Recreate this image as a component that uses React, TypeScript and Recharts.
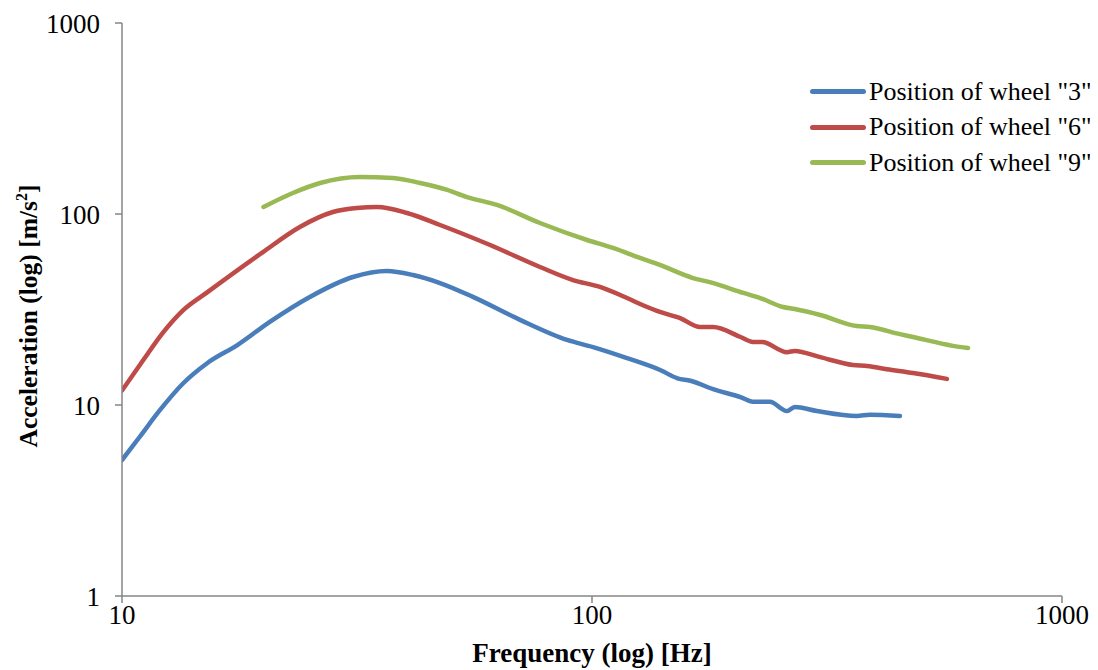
import { Label, Legend, Line, LineChart, XAxis, YAxis } from "recharts";

const wheel3Freq = [10, 10.9, 12.05, 13.5, 15.2, 17.6, 20.7, 25.1, 31.0, 36.6, 41.6, 47.5, 55.8, 70.3, 88.5, 100.5, 118.7, 140, 152, 162, 181, 207, 220, 239, 260, 270, 301, 366, 390, 452];
const wheel3Acc = [5.15, 6.8, 9.42, 13.0, 16.6, 20.6, 27.4, 36.8, 46.8, 50.3, 47.9, 43.5, 36.8, 27.9, 21.9, 20.1, 17.6, 15.2, 13.8, 13.4, 12.1, 11.0, 10.4, 10.4, 9.3, 9.77, 9.3, 8.76, 8.9, 8.76];

const wheel6Freq = [10, 11.1, 12.2, 13.5, 15.2, 19.95, 23.9, 28.1, 31.6, 34.9, 40.4, 47.5, 60.7, 77.5, 91.1, 104, 118.7, 128, 139.5, 154, 170, 181, 207, 220, 230, 260, 270, 306, 359, 385, 424, 482, 569];
const wheel6Acc = [11.9, 17.2, 23.8, 31.4, 39.0, 63.2, 85.5, 102.4, 107.5, 108.8, 101.2, 87.6, 68.8, 52.8, 45.1, 41.5, 36.3, 33.4, 30.7, 28.5, 25.6, 25.6, 22.7, 21.4, 21.4, 18.9, 19.2, 17.8, 16.2, 16.0, 15.4, 14.7, 13.7];

const wheel9Freq = [20.0, 23.1, 26.4, 32.1, 37.7, 43.1, 49.2, 54.2, 62.8, 77.5, 97.6, 110.8, 126.5, 139.5, 164, 178, 210, 228, 255, 270, 306, 366, 390, 452, 482, 558, 586, 631];
const wheel9Acc = [108.8, 128.8, 145.3, 156.2, 154.3, 145.3, 133.6, 122.7, 111.5, 89.7, 73.1, 66.4, 58.9, 54.1, 46.2, 44.0, 38.6, 36.3, 32.6, 31.8, 29.6, 25.9, 25.6, 23.5, 22.7, 20.9, 20.4, 19.9];

const xTicks = [10, 100, 1000];
const yTicks = [1, 10, 100, 1000];

const toPoints = (freq: number[], acc: number[]) => freq.map((f, i) => ({ f, a: acc[i] }));

const series = [
  { name: 'Position of wheel "3"', color: "#4A7EBB", data: toPoints(wheel3Freq, wheel3Acc) },
  { name: 'Position of wheel "6"', color: "#BE4B48", data: toPoints(wheel6Freq, wheel6Acc) },
  { name: 'Position of wheel "9"', color: "#98B954", data: toPoints(wheel9Freq, wheel9Acc) },
];

const FONT = '"Liberation Serif", "Times New Roman", serif';
const AXIS = "#868686";
const FS = 27;

function renderLegend(props: any) {
  const items = props.payload ?? [];
  return (
    <div style={{ fontFamily: FONT, fontSize: 26, color: "#000" }}>
      {items.map((it: any) => (
        <div key={it.value} style={{ display: "flex", alignItems: "center", height: 35.5, whiteSpace: "nowrap" }}>
          <span style={{ display: "inline-block", width: 56, height: 5, borderRadius: 3, background: it.color, marginRight: 3, flexShrink: 0 }} />
          <span>{it.value}</span>
        </div>
      ))}
    </div>
  );
}

function YTitle() {
  return (
    <text transform="translate(29, 308) rotate(-90)" textAnchor="middle" fontFamily={FONT} fontSize={25.5} fontWeight="bold" fill="#000">
      Acceleration (log) [m/s<tspan dy={-10} fontSize={16}>2</tspan><tspan dy={10}>]</tspan>
    </text>
  );
}

export default function App() {
  return (
    <LineChart width={1090} height={662} margin={{ top: 15, right: 36, left: 24, bottom: 14 }}>
      <XAxis
        type="number"
        dataKey="f"
        scale="log"
        domain={[10, 1000]}
        ticks={xTicks}
        allowDataOverflow
        height={60}
        stroke={AXIS}
        strokeWidth={1.5}
        tickSize={7}
        tickMargin={2}
        tick={{ fill: "#000", fontFamily: FONT, fontSize: FS }}
      >
        <Label
          content={() => (
            <text x={584} y={654} textAnchor="middle" fontFamily={FONT} fontSize={FS} fontWeight="bold" fill="#000">
              Frequency (log) [Hz]
            </text>
          )}
        />
      </XAxis>
      <YAxis
        type="number"
        dataKey="a"
        scale="log"
        domain={[1, 1000]}
        ticks={yTicks}
        allowDataOverflow
        width={90}
        stroke={AXIS}
        strokeWidth={1.5}
        tickSize={7}
        tickMargin={15}
        tick={{ fill: "#000", fontFamily: FONT, fontSize: FS }}
      >
        <Label content={() => <YTitle />} />
      </YAxis>
      <Legend
        content={renderLegend}
        layout="vertical"
        align="center"
        verticalAlign="middle"
        wrapperStyle={{ top: 66, left: 802, width: 320 }}
      />
      {series.map((s) => (
        <Line
          key={s.name}
          data={s.data}
          dataKey="a"
          name={s.name}
          type="monotone"
          stroke={s.color}
          strokeWidth={4.5}
          strokeLinecap="round"
          dot={false}
          activeDot={false}
          isAnimationActive={false}
        />
      ))}
    </LineChart>
  );
}
